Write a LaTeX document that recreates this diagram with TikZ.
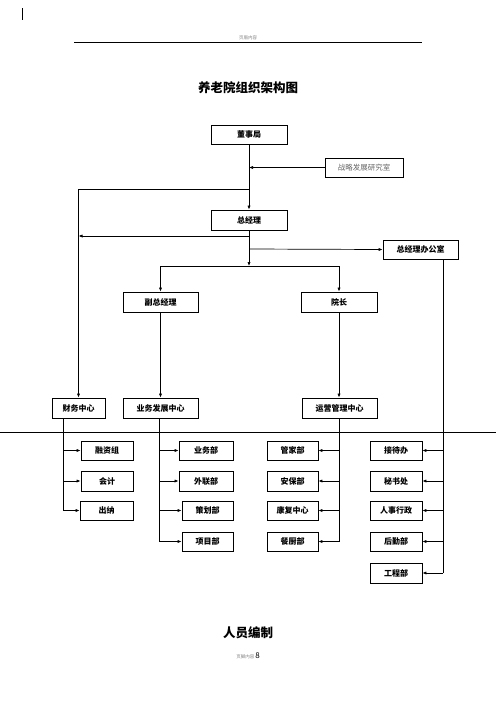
\documentclass[tikz,border=0pt]{standalone}
\usepackage{fontspec}
\newfontfamily\cjk{Noto Sans CJK SC}
\usetikzlibrary{arrows.meta}
\tikzset{
  box/.style={draw, line width=0.8pt, minimum height=19, inner sep=0pt, font=\cjk\bfseries\fontsize{8}{9}\selectfont},
  lnk/.style={line width=0.7pt},
  arr/.style={line width=0.7pt, -{Latex[length=4pt,width=3.2pt]}},
}
\begin{document}
\begin{tikzpicture}[x=1pt,y=-1pt]
\useasboundingbox (0,0) rectangle (496,702);
% header
\draw[line width=0.6pt] (22,8) -- (22,20);
\draw[line width=0.7pt] (74,42) -- (422,42);
\node[font=\cjk\fontsize{4.5}{5}\selectfont, text=gray] (hdr) at (248,37.5) {页眉内容};
\node[font=\cjk\bfseries\fontsize{12.5}{14}\selectfont] (title) at (248,88) {养老院组织架构图};
% top nodes
\node[box, minimum width=76] (dsj) at (249,134.5) {董事局};
\node[box, minimum width=78, line width=0.6pt, font=\cjk\fontsize{7.5}{9}\selectfont, text=black!60] (zl) at (364,167.5) {战略发展研究室};
\node[box, minimum width=76, minimum height=20] (zjl) at (249,220) {总经理};
\node[box, minimum width=75] (bgs) at (420.5,249.5) {总经理办公室};
\node[box, minimum width=75, minimum height=20] (fzjl) at (160.5,302) {副总经理};
\node[box, minimum width=76, minimum height=20] (yz) at (339,302) {院长};
\node[box, minimum width=53, minimum height=20] (cwzx) at (78.5,408) {财务中心};
\node[box, minimum width=75, minimum height=20] (ywfz) at (160.5,408) {业务发展中心};
\node[box, minimum width=75, minimum height=20] (yygl) at (339.5,408) {运营管理中心};
% finance
\node[box, minimum width=52] (rzz) at (107,450.5) {融资组};
\node[box, minimum width=52, minimum height=20] (kj) at (107,481) {会计};
\node[box, minimum width=53] (cn) at (106.5,510.5) {出纳};
% business
\node[box, minimum width=54] (ywb) at (206,450.5) {业务部};
\node[box, minimum width=54, minimum height=20] (wlb) at (206,481) {外联部};
\node[box, minimum width=51] (chb) at (207.5,510.5) {策划部};
\node[box, minimum width=51] (xmb) at (207.5,541.5) {项目部};
% operations
\node[box, minimum width=51] (gjb) at (292.5,450.5) {管家部};
\node[box, minimum width=51, minimum height=20] (abb) at (292.5,481) {安保部};
\node[box, minimum width=51] (kfzx) at (292.5,510.5) {康复中心};
\node[box, minimum width=51] (ccb) at (292.5,541.5) {餐厨部};
% office
\node[box, minimum width=52] (jdb) at (396,450.5) {接待办};
\node[box, minimum width=52, minimum height=20] (msc) at (396,481) {秘书处};
\node[box, minimum width=52] (rsxz) at (396,510.5) {人事行政};
\node[box, minimum width=52] (hqb) at (396,541.5) {后勤部};
\node[box, minimum width=52, minimum height=20] (gcb) at (396,573) {工程部};
% bottom
\node[font=\cjk\bfseries\fontsize{12.5}{14}\selectfont] (ryb) at (248,633) {人员编制};
\node[font=\cjk\fontsize{4.5}{5}\selectfont, text=gray] (ftr) at (248,655.5) {页脚内容 {\color{black}\fontsize{8}{9}\selectfont 8}};
% long rule
\draw[line width=0.7pt] (0,432) -- (496,432);
% coordinates
\coordinate (j1) at (249,189);
\coordinate (j2) at (249,236);
\coordinate (j3) at (249,249);
\coordinate (h) at (249,266);
\coordinate (v1) at (63,0);
\coordinate (v2) at (159,0);
\coordinate (v3) at (339,0);
\coordinate (v4) at (443,0);
% top connectors
\draw[arr] (dsj.south) -- (zjl.north);
\draw[arr] (zl.west) -- (zl.west -| dsj.south);
\draw[arr] (j1) -| (cwzx.north);
\draw[arr] (j2) -- (j2 -| cwzx.north);
\draw[arr] (j3) -- (bgs.west);
\draw[arr] (zjl.south) -- (h);
\draw[arr] (h) -| (fzjl.north);
\draw[arr] (h) -| (yz.north);
\draw[arr] (fzjl.south) -- (ywfz.north);
\draw[arr] (yz.south) -- (yz.south |- yygl.north);
% finance branch
\draw[lnk] (cwzx.south -| v1) -- (cn.west -| v1);
\draw[arr] (rzz.west -| v1) -- (rzz.west);
\draw[arr] (kj.west -| v1) -- (kj.west);
\draw[arr] (cn.west -| v1) -- (cn.west);
% business branch
\draw[lnk] (ywfz.south -| v2) -- (xmb.west -| v2);
\draw[arr] (ywb.west -| v2) -- (ywb.west);
\draw[arr] (wlb.west -| v2) -- (wlb.west);
\draw[arr] (chb.west -| v2) -- (chb.west);
\draw[arr] (xmb.west -| v2) -- (xmb.west);
% operations branch
\draw[lnk] (yygl.south -| v3) -- (ccb.east -| v3);
\draw[arr] (gjb.east -| v3) -- (gjb.east);
\draw[arr] (abb.east -| v3) -- (abb.east);
\draw[arr] (kfzx.east -| v3) -- (kfzx.east);
\draw[arr] (ccb.east -| v3) -- (ccb.east);
% office branch
\draw[lnk] (bgs.south -| v4) -- (gcb.east -| v4);
\draw[arr] (jdb.east -| v4) -- (jdb.east);
\draw[arr] (msc.east -| v4) -- (msc.east);
\draw[arr] (rsxz.east -| v4) -- (rsxz.east);
\draw[arr] (hqb.east -| v4) -- (hqb.east);
\draw[arr] (gcb.east -| v4) -- (gcb.east);
\end{tikzpicture}
\end{document}
